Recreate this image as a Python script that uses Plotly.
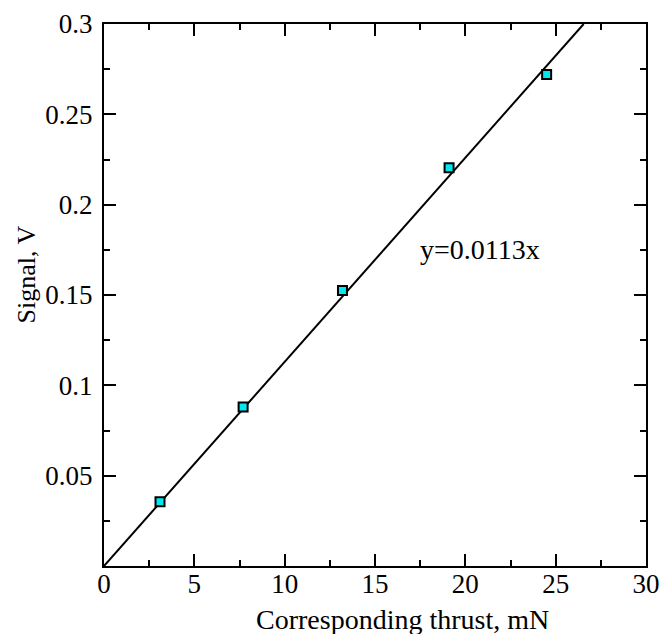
import plotly.graph_objects as go

thrust = [3.1, 7.7, 13.2, 19.1, 24.5]
signal = [0.0355, 0.088, 0.1525, 0.2205, 0.272]
slope = 0.0113
fit_x = [0.0, 0.3 / slope]
fit_y = [0.0, 0.3]
ytick_vals = [0, 0.05, 0.1, 0.15, 0.2, 0.25, 0.3]
ytick_text = ["", "0.05", "0.1", "0.15", "0.2", "0.25", "0.3"]
xtick_vals = [0, 5, 10, 15, 20, 25, 30]
xtick_text = ["0", "5", "10", "15", "20", "25", "30"]
x_title = "Corresponding thrust, mN"
y_title = "Signal, V"
fit_label = "y=0.0113x"

FONT = "Liberation Serif, Times New Roman, serif"

fig = go.Figure()
fig.add_trace(go.Scatter(x=fit_x, y=fit_y, mode="lines",
                         line=dict(color="black", width=2), showlegend=False))
fig.add_trace(go.Scatter(x=thrust, y=signal, mode="markers",
                         marker=dict(symbol="square", size=9, color="#00E8F0",
                                     line=dict(color="black", width=2)),
                         showlegend=False))
fig.add_annotation(x=20.8, y=0.175, text=fit_label, showarrow=False,
                   font=dict(family=FONT, size=28, color="black"))
fig.add_annotation(xref="paper", yref="paper", x=0.55, y=0, yanchor="middle", yshift=-53,
                   text=x_title, showarrow=False,
                   font=dict(family=FONT, size=28, color="black"))
fig.add_annotation(xref="paper", yref="paper", x=0, y=0.538, xanchor="center", yanchor="middle",
                   xshift=-78, textangle=-90, text=y_title, showarrow=False,
                   font=dict(family=FONT, size=26, color="black"))

axis_common = dict(showline=True, linecolor="black", linewidth=2, mirror="allticks",
                   ticks="inside", ticklen=12, tickwidth=2, tickcolor="black",
                   showgrid=False, zeroline=False, automargin=False,
                   tickfont=dict(family=FONT, size=27, color="black"))

fig.update_xaxes(range=[0, 30], tickvals=xtick_vals, ticktext=xtick_text,
                 minor=dict(ticks="inside", ticklen=6, tickwidth=2, tickcolor="black", dtick=2.5, tick0=0),
                 ticklabelstandoff=-7,
                 **axis_common)
fig.update_yaxes(range=[0, 0.3], tickvals=ytick_vals, ticktext=ytick_text,
                 minor=dict(ticks="inside", ticklen=6, tickwidth=2, tickcolor="black", dtick=0.025, tick0=0),
                 ticklabelstandoff=4,
                 **axis_common)

fig.update_layout(width=664, height=634, margin=dict(l=104, r=18, t=24, b=68),
                  plot_bgcolor="white", paper_bgcolor="white")
fig.write_html("out.html")
